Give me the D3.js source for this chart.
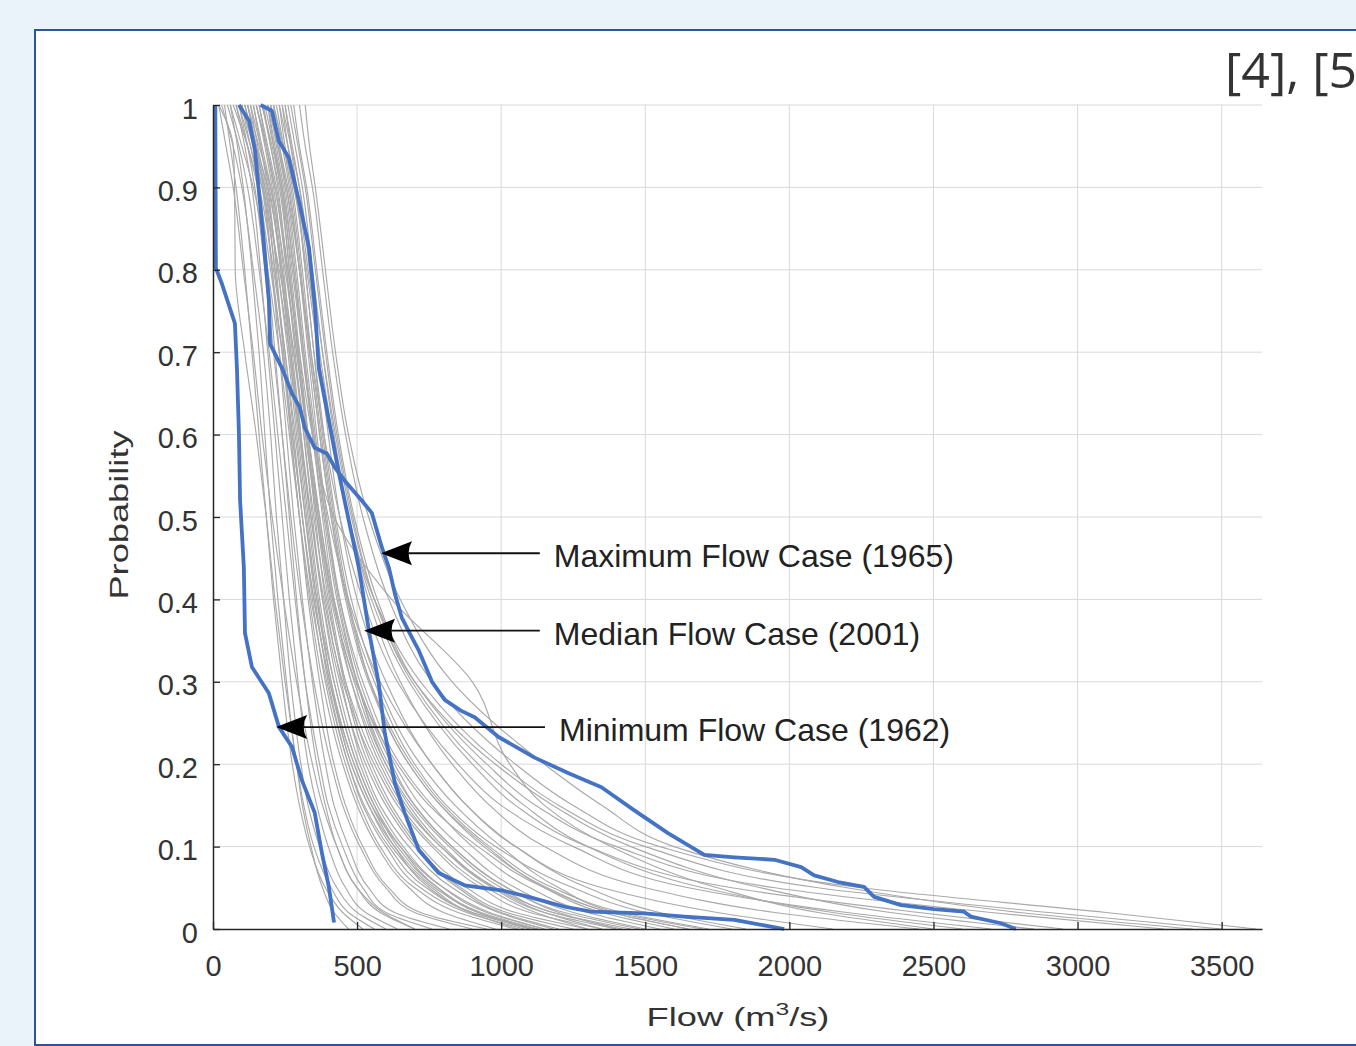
<!DOCTYPE html>
<html>
<head>
<meta charset="utf-8">
<script src="https://cdn.jsdelivr.net/npm/d3@7"></script>
<style>
  html, body { margin: 0; padding: 0; background: #eaf2fa; overflow: hidden; }
  svg { display: block; }
</style>
</head>
<body>
<script>
// probability levels shared by the grey yearly curves
const probLevels = [1, 0.95, 0.9, 0.8, 0.7, 0.6, 0.5, 0.4, 0.3, 0.2, 0.15, 0.1, 0.05, 0.02, 0];

// flow (m3/s) of every grey year at each probability level above
const grayFlows = [
  [20, 70, 75, 77, 110, 150, 185, 215, 250, 290, 310, 340, 380, 420, 470],
  [40, 60, 80, 110, 135, 160, 185, 210, 240, 275, 300, 335, 390, 450, 520],
  [60, 85, 105, 135, 160, 180, 200, 225, 255, 290, 315, 350, 410, 470, 560],
  [30, 70, 100, 140, 175, 200, 220, 245, 270, 305, 330, 370, 430, 500, 600],
  [80, 110, 135, 165, 190, 215, 240, 265, 295, 330, 360, 400, 460, 530, 640],
  [100, 130, 160, 190, 215, 240, 265, 290, 320, 360, 390, 430, 500, 580, 700],
  [50, 90, 120, 160, 195, 225, 255, 285, 320, 370, 400, 450, 520, 600, 760],
  [120, 150, 175, 205, 230, 255, 280, 310, 345, 390, 420, 470, 540, 630, 820],
  [20, 45, 70, 105, 140, 170, 205, 245, 290, 345, 380, 430, 500, 590, 700],
  [90, 120, 145, 180, 210, 240, 270, 305, 350, 410, 450, 510, 600, 700, 900],
  [140, 165, 190, 220, 245, 270, 300, 330, 370, 420, 460, 520, 610, 720, 950],
  [110, 145, 175, 215, 250, 280, 310, 345, 390, 460, 510, 580, 700, 850, 1050],
  [150, 180, 205, 240, 270, 300, 330, 365, 410, 480, 540, 620, 760, 900, 1100],
  [70, 120, 160, 210, 250, 285, 320, 360, 420, 500, 560, 650, 780, 920, 1120],
  [170, 200, 225, 255, 285, 315, 345, 380, 430, 510, 570, 660, 800, 950, 1150],
  [130, 165, 195, 235, 270, 305, 340, 380, 440, 530, 600, 700, 850, 1000, 1200],
  [190, 215, 240, 270, 300, 330, 365, 405, 460, 550, 620, 720, 880, 1050, 1300],
  [100, 140, 180, 225, 265, 300, 340, 385, 450, 560, 640, 760, 930, 1100, 1350],
  [200, 225, 250, 285, 315, 345, 380, 420, 480, 580, 660, 790, 970, 1150, 1400],
  [160, 190, 220, 260, 295, 330, 370, 415, 490, 600, 690, 820, 1000, 1180, 1450],
  [210, 240, 265, 300, 330, 360, 395, 440, 510, 630, 720, 860, 1050, 1250, 1500],
  [180, 210, 240, 280, 315, 350, 390, 440, 520, 650, 760, 900, 1100, 1300, 1550],
  [120, 160, 200, 250, 290, 330, 370, 420, 500, 620, 700, 830, 1020, 1200, 1400],
  [220, 245, 270, 305, 335, 370, 410, 460, 540, 680, 790, 950, 1150, 1350, 1600],
  [90, 130, 170, 230, 280, 320, 360, 410, 480, 590, 670, 790, 980, 1150, 1350],
  [240, 260, 285, 320, 350, 385, 425, 480, 570, 720, 840, 1000, 1200, 1400, 1700],
  [150, 185, 215, 255, 290, 325, 365, 415, 495, 640, 750, 920, 1150, 1380, 1650],
  [200, 230, 260, 300, 335, 370, 410, 465, 560, 700, 810, 980, 1250, 1500, 1800],
  [250, 275, 300, 335, 365, 400, 440, 500, 600, 760, 880, 1050, 1300, 1550, 1850],
  [130, 155, 185, 225, 260, 290, 320, 355, 400, 470, 520, 600, 720, 880, 1080],
  [175, 200, 230, 265, 295, 325, 355, 390, 445, 520, 580, 680, 830, 990, 1180],
  [110, 150, 190, 240, 280, 315, 350, 395, 460, 570, 650, 770, 950, 1120, 1300],
  [230, 250, 275, 310, 340, 375, 415, 465, 545, 690, 800, 960, 1180, 1420, 1720],
  [60, 100, 140, 190, 230, 265, 300, 340, 395, 470, 525, 610, 740, 900, 1120],
  [200, 220, 245, 280, 310, 345, 385, 430, 500, 610, 700, 830, 1020, 1220, 1480],
  [100, 140, 170, 205, 240, 270, 300, 335, 380, 450, 500, 570, 680, 800, 980],
  [160, 185, 210, 245, 275, 305, 335, 370, 420, 500, 560, 640, 780, 930, 1130],
  [140, 170, 200, 235, 265, 295, 325, 360, 410, 490, 550, 630, 750, 890, 1060],
  [190, 210, 235, 265, 295, 325, 360, 400, 455, 540, 610, 710, 860, 1020, 1250],
  [120, 150, 180, 215, 245, 275, 310, 350, 405, 490, 550, 650, 800, 960, 1150],
  [210, 230, 255, 290, 320, 355, 390, 435, 500, 600, 680, 800, 980, 1180, 1420],
  [80, 120, 155, 200, 240, 275, 310, 350, 405, 480, 540, 630, 770, 920, 1100],
  [250, 270, 290, 320, 350, 380, 420, 470, 545, 680, 790, 940, 1160, 1380, 1650],
  [170, 205, 235, 275, 310, 350, 400, 470, 580, 760, 880, 1050, 1350, 1750, 2150],
  [260, 285, 310, 345, 380, 420, 470, 540, 650, 830, 960, 1150, 1500, 1950, 2450],
  [190, 225, 255, 300, 340, 385, 440, 520, 640, 850, 1000, 1250, 1650, 2200, 2700],
  [230, 260, 290, 330, 370, 415, 470, 550, 680, 900, 1050, 1300, 1800, 2450, 2950],
  [280, 300, 325, 360, 395, 435, 490, 570, 700, 950, 1120, 1400, 1950, 2700, 3300],
  [210, 245, 280, 325, 365, 410, 470, 560, 720, 1000, 1200, 1500, 2100, 2900, 3500],
  [300, 320, 345, 380, 415, 460, 520, 610, 760, 1050, 1250, 1550, 2250, 3100, 3620],
  [270, 295, 320, 355, 390, 430, 485, 560, 690, 920, 1080, 1300, 1700, 2150, 2600],
  [320, 335, 355, 390, 425, 470, 540, 650, 830, 1150, 1350, 1600, 2200, 2800, 3400],
  [240, 270, 300, 340, 380, 425, 480, 560, 700, 980, 1180, 1450, 1900, 2350, 2850],
  [150, 185, 215, 260, 300, 345, 420, 620, 900, 1030, 1150, 1380, 1750, 2100, 2500]
];

// highlighted years, [flow, probability]
const maximumCase = [[90,1.0],[125,0.981],[146,0.944],[170,0.856],[187,0.790],[194,0.762],[198,0.710],
  [239,0.681],[274,0.650],[301,0.633],[319,0.608],[353,0.584],[395,0.577],[423,0.560],[457,0.544],
  [516,0.520],[551,0.505],[586,0.463],[610,0.439],[631,0.407],[655,0.378],[690,0.354],[714,0.338],
  [760,0.300],[804,0.278],[860,0.265],[908,0.257],[991,0.233],[1116,0.208],[1234,0.189],[1348,0.172],
  [1462,0.144],[1580,0.116],[1705,0.090],[1809,0.087],[1948,0.084],[2041,0.075],[2086,0.065],
  [2169,0.057],[2259,0.051],[2294,0.039],[2388,0.029],[2502,0.024],[2606,0.021],[2630,0.015],
  [2734,0.007],[2786,0.0]];

const medianCase = [[165,1.0],[204,0.993],[229,0.956],[263,0.936],[298,0.884],[333,0.827],[353,0.759],
  [367,0.681],[402,0.617],[437,0.553],[471,0.496],[506,0.439],[541,0.362],[575,0.298],[596,0.238],
  [631,0.177],[665,0.141],[714,0.096],[783,0.068],[873,0.053],[1001,0.047],[1095,0.039],[1220,0.027],
  [1313,0.021],[1497,0.019],[1636,0.015],[1809,0.011],[1982,0.0]];

const minimumCase = [[8,1.0],[10,0.802],[31,0.783],[76,0.735],[83,0.681],[90,0.601],[94,0.52],
  [107,0.439],[111,0.359],[135,0.318],[194,0.286],[229,0.245],[274,0.221],[308,0.181],[353,0.141],
  [378,0.092],[402,0.051],[420,0.008]];

const xTicks = [0, 500, 1000, 1500, 2000, 2500, 3000, 3500];
const yTicks = [0, 0.1, 0.2, 0.3, 0.4, 0.5, 0.6, 0.7, 0.8, 0.9, 1];

// annotations: label, arrow tip [flow, prob], arrow tail flow
const annLabels = ["Maximum Flow Case (1965)", "Median Flow Case (2001)", "Minimum Flow Case (1962)"];
const annTips = [[583, 0.456], [524, 0.362], [219, 0.245]];
const annTails = [1134, 1134, 1152];

const W = 1356, H = 1046;
const svg = d3.select("body").append("svg").attr("width", W).attr("height", H);

// white slide panel
svg.append("rect")
   .attr("x", 35).attr("y", 30).attr("width", 1400).attr("height", 1015)
   .attr("fill", "#fff").attr("stroke", "#2d5496").attr("stroke-width", 2);

svg.append("text")
   .attr("x", 1225).attr("y", 88)
   .attr("font-family", "Open Sans, sans-serif").attr("font-size", 50)
   .attr("fill", "#333").text("[4], [5]");

const x = d3.scaleLinear().domain([0, 3640]).range([213, 1262]);
const y = d3.scaleLinear().domain([0, 1]).range([929, 105]);

const font = "Liberation Sans, Arial, sans-serif";

// grid
const grid = svg.append("g").attr("stroke", "#d9d9d9").attr("stroke-width", 1);
grid.selectAll(".gx").data(xTicks.slice(1)).enter().append("line")
    .attr("x1", d => x(d)).attr("x2", d => x(d)).attr("y1", y(0)).attr("y2", y(1));
grid.selectAll(".gy").data(yTicks.slice(1)).enter().append("line")
    .attr("x1", x(0)).attr("x2", x(3640)).attr("y1", d => y(d)).attr("y2", d => y(d));

// grey curves
const grayLine = d3.line()
    .x(d => x(d[0])).y(d => y(d[1]))
    .curve(d3.curveMonotoneY);
svg.append("g").selectAll("path")
   .data(grayFlows.map(f => f.map((v, i) => [v, probLevels[i]])))
   .enter().append("path")
   .attr("d", grayLine)
   .attr("fill", "none").attr("stroke", "#a9a9a9").attr("stroke-width", 1.15);

// blue highlighted years
const blueLine = d3.line().x(d => x(d[0])).y(d => y(d[1]));
svg.append("g").selectAll("path")
   .data([minimumCase, medianCase, maximumCase])
   .enter().append("path")
   .attr("d", blueLine)
   .attr("fill", "none").attr("stroke", "#4472c4").attr("stroke-width", 3.8)
   .attr("stroke-linejoin", "round");

// axes
let xAxis = d3.axisBottom(x).tickValues(xTicks).tickFormat(d3.format("d"))
              .tickSizeInner(-7).tickSizeOuter(0).tickPadding(26);
let yAxis = d3.axisLeft(y).tickValues(yTicks).tickFormat(d3.format("~g"))
              .tickSizeInner(-7).tickSizeOuter(0).tickPadding(15);

const gx = svg.append("g").attr("transform", `translate(0, ${y(0)})`).call(xAxis);
const gy = svg.append("g").attr("transform", `translate(${x(0)}, 0)`).call(yAxis);
[gx, gy].forEach(g => {
  g.select(".domain").attr("stroke", "#262626").attr("stroke-width", 1.5);
  g.selectAll(".tick line").attr("stroke", "#262626").attr("stroke-width", 1.3);
  g.selectAll(".tick text").attr("font-family", font).attr("font-size", 29).attr("fill", "#333");
});
gy.selectAll(".tick text").attr("dy", "0.45em");

// axis labels (stretched along their reading direction)
const xl = svg.append("text")
   .attr("transform", "translate(738, 1026) scale(1.45, 1)")
   .attr("text-anchor", "middle").attr("font-family", font).attr("font-size", 25).attr("fill", "#333");
xl.append("tspan").text("Flow (m");
xl.append("tspan").attr("font-size", 17).attr("dy", -11).text("3");
xl.append("tspan").attr("dy", 11).text("/s)");

svg.append("text")
   .attr("transform", "translate(128, 515) rotate(-90) scale(1.45, 1)")
   .attr("text-anchor", "middle").attr("font-family", font).attr("font-size", 25).attr("fill", "#333")
   .text("Probability");

// arrows + labels
const ann = svg.append("g");
annLabels.forEach((lab, i) => {
  const tx = x(annTips[i][0]), ty = y(annTips[i][1]), ex = x(annTails[i]);
  ann.append("line")
     .attr("x1", tx + 20).attr("x2", ex).attr("y1", ty).attr("y2", ty)
     .attr("stroke", "#111").attr("stroke-width", 1.8);
  ann.append("path")
     .attr("d", `M${tx},${ty} L${tx + 31},${ty - 12} Q${tx + 24},${ty} ${tx + 31},${ty + 12} Z`)
     .attr("fill", "#000");
  ann.append("text")
     .attr("x", ex + 14).attr("y", ty + 14)
     .attr("font-family", font).attr("font-size", 32).attr("fill", "#222")
     .text(lab);
});
</script>
</body>
</html>
